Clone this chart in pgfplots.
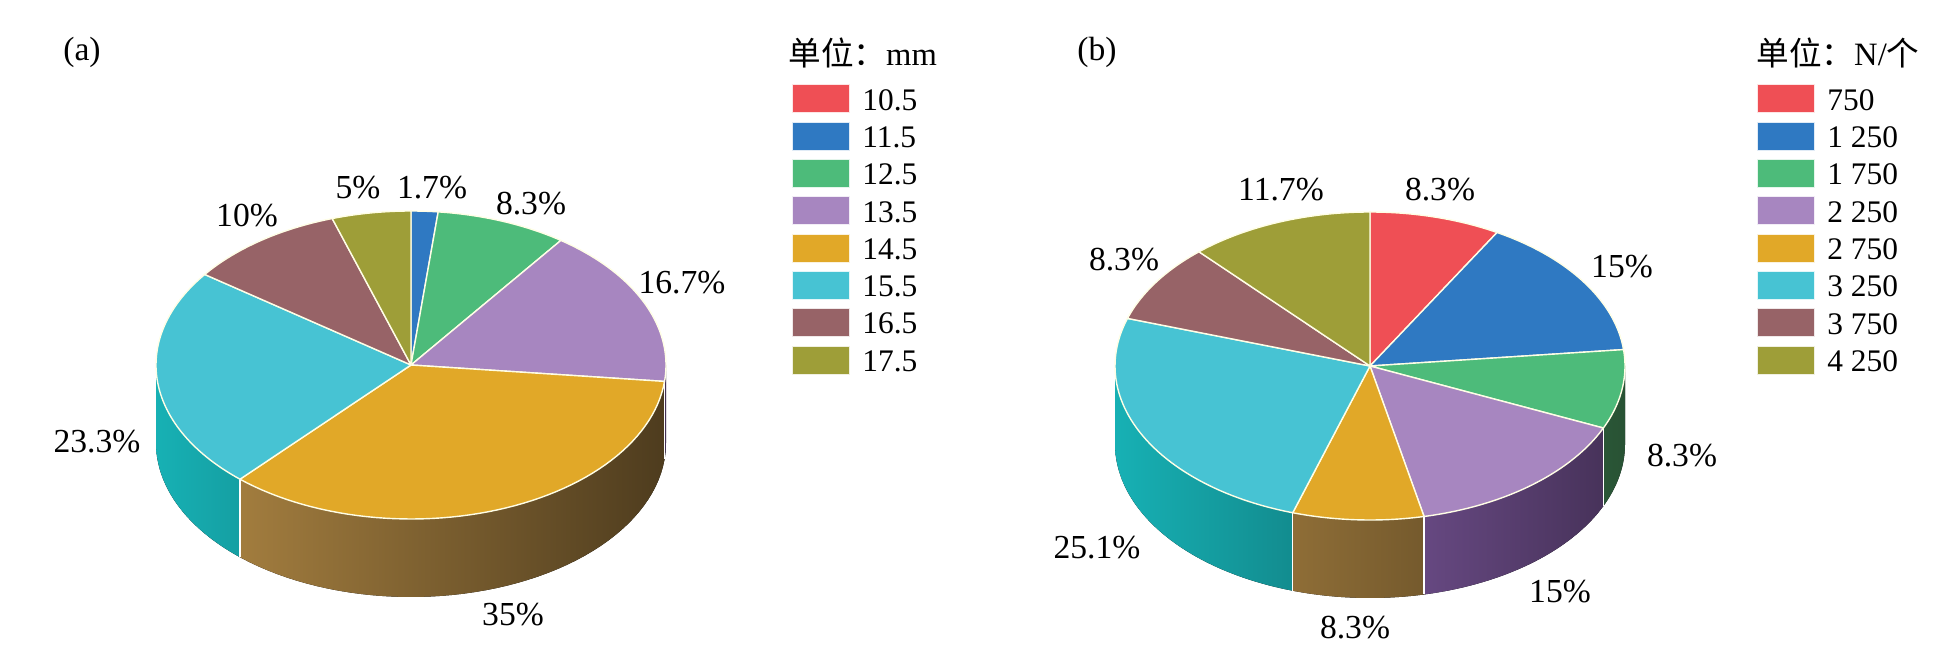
\documentclass[border=0pt]{standalone}
\usepackage{fontspec}
\setmainfont{Liberation Serif}
\newfontfamily\cjk{Noto Sans CJK SC}
\usepackage{pgfplots}
\pgfplotsset{compat=1.18}
\usepackage{pgfplotstable}

\definecolor{cR}{RGB}{239,79,85}
\definecolor{cB}{RGB}{47,121,194}
\definecolor{cG}{RGB}{77,187,122}
\definecolor{cP}{RGB}{167,134,192}
\definecolor{cO}{RGB}{225,168,40}
\definecolor{cC}{RGB}{71,195,211}
\definecolor{cN}{RGB}{151,99,103}
\definecolor{cL}{RGB}{158,158,56}
\definecolor{sR}{RGB}{205,62,68}
\definecolor{sB}{RGB}{40,102,172}
\definecolor{sG}{RGB}{100,205,130}
\definecolor{sP}{RGB}{170,120,215}
\definecolor{sO}{RGB}{195,150,75}
\definecolor{sC}{RGB}{25,192,196}
\definecolor{sN}{RGB}{140,90,95}
\definecolor{sL}{RGB}{150,150,50}

% share (%) of each class, clockwise from 12 o'clock
\pgfplotstableread{
val  top side
0    cR  sR
1.7  cB  sB
8.3  cG  sG
16.7 cP  sP
35   cO  sO
23.3 cC  sC
10   cN  sN
5    cL  sL
}\dataA
\pgfplotstableread{
val  top side
8.3  cR  sR
15   cB  sB
8.3  cG  sG
15   cP  sP
8.3  cO  sO
25.1 cC  sC
8.3  cN  sN
11.7 cL  sL
}\dataB

\newcommand\RX{255}
\newcommand\RY{154}
\newcommand\DZ{78}

% #1 table, #2 cx, #3 cy
\newcommand\drawpie[3]{%
  % side walls
  \def\cumv{0}%
  \pgfplotsforeachungrouped \kk in {0,...,7}{%
    \pgfplotstablegetelem{\kk}{val}\of{#1}\let\vv\pgfplotsretval
    \pgfplotstablegetelem{\kk}{side}\of{#1}\let\sidecol\pgfplotsretval
    \pgfmathsetmacro\aS{90-3.6*\cumv}%
    \pgfmathsetmacro\cumv{\cumv+\vv}%
    \pgfmathsetmacro\aE{90-3.6*\cumv}%
    \pgfmathsetmacro\aL{max(\aE,-180)}%
    \pgfmathsetmacro\aH{min(\aS,0)}%
    \pgfmathtruncatemacro\vis{(\aH-\aL)>0.05}%
    \ifnum\vis=1
      \pgfmathtruncatemacro\pl{66-26*cos(\aL)}%
      \pgfmathtruncatemacro\pr{66-26*cos(\aH)}%
      \edef\tmp{\noexpand\fill[left color=\sidecol!\pl!black, right color=\sidecol!\pr!black]
        plot[domain=\aL:\aH, samples=50, variable=\noexpand\t]
          ({#2+\RX*cos(\noexpand\t)},{#3-\RY*sin(\noexpand\t)})
        -- plot[domain=\aH:\aL, samples=50, variable=\noexpand\t]
          ({#2+\RX*cos(\noexpand\t)},{#3+\DZ-\RY*sin(\noexpand\t)}) -- cycle;}%
      \tmp
    \fi
  }%
  % tops and wall edges
  \def\cumv{0}%
  \pgfplotsforeachungrouped \kk in {0,...,7}{%
    \pgfplotstablegetelem{\kk}{val}\of{#1}\let\vv\pgfplotsretval
    \pgfplotstablegetelem{\kk}{top}\of{#1}\let\topcol\pgfplotsretval
    \pgfmathsetmacro\aS{90-3.6*\cumv}%
    \pgfmathsetmacro\cumv{\cumv+\vv}%
    \pgfmathsetmacro\aE{90-3.6*\cumv}%
    \pgfmathtruncatemacro\edgevis{and(\aS<-0.5,\aS>-179.5)}%
    \ifnum\edgevis=1
      \edef\tmp{\noexpand\draw[white, line width=0.7pt]
        ({#2+\RX*cos(\aS)},{#3-\RY*sin(\aS)}) -- ({#2+\RX*cos(\aS)},{#3+\DZ-\RY*sin(\aS)});}%
      \tmp
    \fi
    \pgfmathtruncatemacro\vis{\vv>0}%
    \ifnum\vis=1
      \edef\tmp{\noexpand\filldraw[fill=\topcol, draw=white!90!yellow, line width=0.7pt, line join=round]
        (#2,#3) -- plot[domain=\aS:\aE, samples=60, variable=\noexpand\t]
          ({#2+\RX*cos(\noexpand\t)},{#3-\RY*sin(\noexpand\t)}) -- cycle;}%
      \tmp
    \fi
  }%
}

\newcommand\legrow[4]{% x, y, colour, text
  \fill[#3, draw=white!85!#3, line width=0.5pt] (#1,#2-14) rectangle (#1+57,#2+14);
  \node[anchor=west, font=\fontsize{15.7}{18}\selectfont, inner sep=0pt] at (#1+70,#2+1) {#4};
}

\begin{document}
\begin{tikzpicture}
\begin{axis}[
  x=0.5pt, y=0.5pt,
  xmin=0, xmax=1951, ymin=0, ymax=651,
  y dir=reverse,
  hide axis, clip=false,
  at={(0,0)}, anchor=south west,
]
\drawpie{\dataA}{411}{365}
\drawpie{\dataB}{1370}{366}

\tikzset{lab/.style={font=\fontsize{16.8}{19}\selectfont, inner sep=0pt}}
% panel (a) labels
\node[lab] at (axis cs:82,52) {(a)};
\node[lab] at (axis cs:358,188) {5\%};
\node[lab] at (axis cs:432,188) {1.7\%};
\node[lab] at (axis cs:531,204) {8.3\%};
\node[lab] at (axis cs:682,283) {16.7\%};
\node[lab] at (axis cs:247,216) {10\%};
\node[lab] at (axis cs:97,442) {23.3\%};
\node[lab] at (axis cs:513,615) {35\%};
% panel (b) labels
\node[lab] at (axis cs:1097,52) {(b)};
\node[lab] at (axis cs:1281,190) {11.7\%};
\node[lab] at (axis cs:1440,190) {8.3\%};
\node[lab] at (axis cs:1622,267) {15\%};
\node[lab] at (axis cs:1682,456) {8.3\%};
\node[lab] at (axis cs:1560,592) {15\%};
\node[lab] at (axis cs:1355,628) {8.3\%};
\node[lab] at (axis cs:1097,548) {25.1\%};
\node[lab] at (axis cs:1124,260) {8.3\%};

% legends
\node[anchor=west, font=\fontsize{16.3}{18}\selectfont, inner sep=0pt] at (axis cs:788,53) {{\cjk 单位：}mm};
\legrow{792}{99}{cR}{10.5}
\legrow{792}{136.3}{cB}{11.5}
\legrow{792}{173.6}{cG}{12.5}
\legrow{792}{210.9}{cP}{13.5}
\legrow{792}{248.2}{cO}{14.5}
\legrow{792}{285.5}{cC}{15.5}
\legrow{792}{322.8}{cN}{16.5}
\legrow{792}{360.1}{cL}{17.5}

\node[anchor=west, font=\fontsize{16.3}{18}\selectfont, inner sep=0pt] at (axis cs:1756,53) {{\cjk 单位：}N/{\cjk 个}};
\legrow{1757}{99}{cR}{750}
\legrow{1757}{136.3}{cB}{1 250}
\legrow{1757}{173.6}{cG}{1 750}
\legrow{1757}{210.9}{cP}{2 250}
\legrow{1757}{248.2}{cO}{2 750}
\legrow{1757}{285.5}{cC}{3 250}
\legrow{1757}{322.8}{cN}{3 750}
\legrow{1757}{360.1}{cL}{4 250}
\end{axis}
\pgfresetboundingbox
\useasboundingbox (0,0) rectangle (975.5pt,325.5pt);
\end{tikzpicture}
\end{document}
